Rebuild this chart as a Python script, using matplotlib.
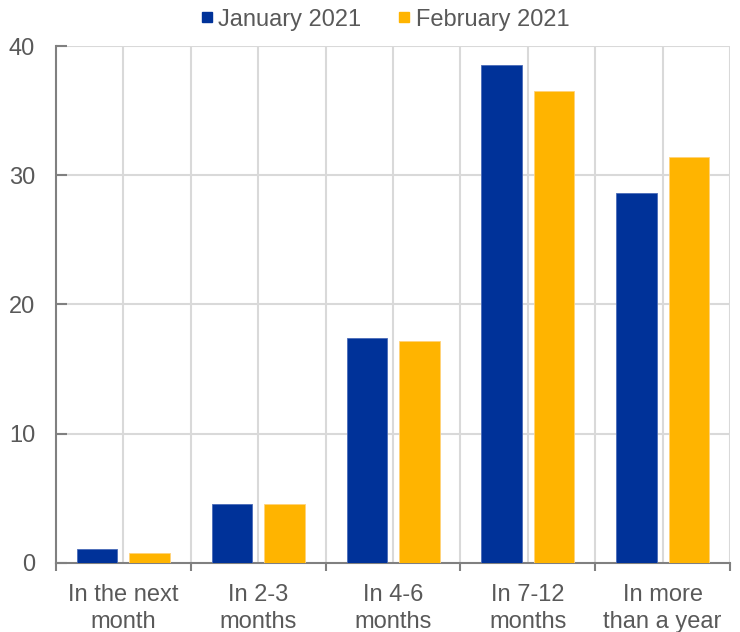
import numpy as np
import matplotlib.pyplot as plt
from matplotlib.lines import Line2D

plt.rcParams.update({
    "font.family": ["Liberation Sans", "DejaVu Sans"],
    "font.size": 17,
    "text.color": "#595959",
})

categories = ["In the next\nmonth", "In 2-3\nmonths", "In 4-6\nmonths",
              "In 7-12\nmonths", "In more\nthan a year"]
jan_2021 = [1.1, 4.6, 17.4, 38.5, 28.6]
feb_2021 = [0.8, 4.6, 17.2, 36.5, 31.4]
series_names = ["January 2021", "February 2021"]
colors = ["#003299", "#FFB400"]

x = np.arange(len(categories))
width = 0.30
offset = 0.195

fig = plt.figure(figsize=(7.4, 6.32), dpi=100)
ax = fig.add_axes([0.0757, 0.1092, 0.9108, 0.818])

# grid: horizontal every 10, vertical at category centres and boundaries
grid_kw = dict(color="#d9d9d9", lw=1.5, zorder=0)
for v in [10, 20, 30, 40]:
    ax.axhline(v, **grid_kw)
for v in np.arange(-0.5, len(categories), 0.5)[1:]:
    ax.axvline(v, **grid_kw)

ax.bar(x - offset, jan_2021, width, color=colors[0], edgecolor="#4a6bb8",
       linewidth=0.6, zorder=3)
ax.bar(x + offset, feb_2021, width, color=colors[1], edgecolor="#ffd27a",
       linewidth=0.6, zorder=3)

ax.set_xlim(-0.5, len(categories) - 0.5)
ax.set_ylim(0, 40)
ax.set_yticks([0, 10, 20, 30, 40])

ax.set_xticks(x)
ax.set_xticklabels(categories, linespacing=1.3)
ax.tick_params(axis="x", length=0, pad=15, labelsize=17, labelcolor="#595959")
ax.set_xticks(np.arange(-0.5, len(categories), 1.0), minor=True)
ax.tick_params(axis="x", which="minor", direction="out", length=6,
               width=1.5, color="#808080")
ax.tick_params(axis="y", direction="in", length=8, width=1.5,
               color="#808080", pad=15, labelsize=17, labelcolor="#595959")

for side in ["top", "right"]:
    ax.spines[side].set_visible(False)
for side in ["left", "bottom"]:
    ax.spines[side].set_color("#808080")
    ax.spines[side].set_linewidth(1.5)

handles = [Line2D([], [], marker="s", ls="none", markersize=7.5,
                  markerfacecolor=c, markeredgecolor=c) for c in colors]
fig.legend(handles, series_names, loc="upper center", ncol=2,
           bbox_to_anchor=(0.518, 1.02), frameon=False, fontsize=17,
           handletextpad=0.1, columnspacing=1.4, handlelength=0.8)

fig.savefig("out.png", dpi=100)
